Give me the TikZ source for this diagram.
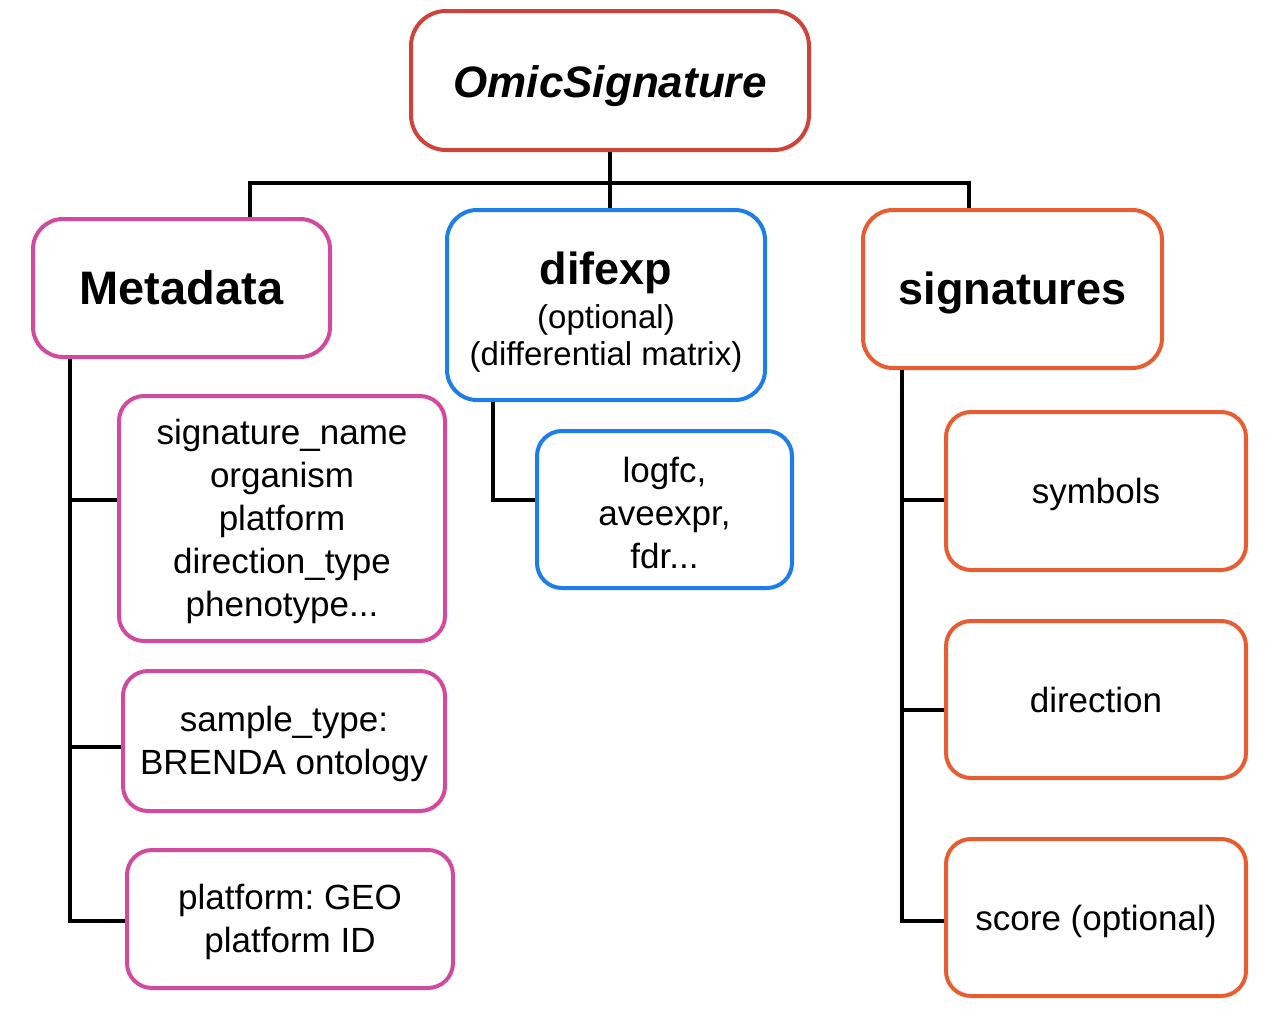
\documentclass[tikz,border=0pt]{standalone}
\usepackage{fontspec}
\setmainfont{Liberation Sans}
\frenchspacing
\definecolor{cred}{RGB}{208,67,58}
\definecolor{cpink}{RGB}{210,74,157}
\definecolor{cblue}{RGB}{30,125,232}
\definecolor{corange}{RGB}{232,92,50}
\tikzset{
  box/.style={draw, line width=4pt, rounded corners=30pt, fill=white, align=center, inner sep=0pt},
  sub/.style={box, rounded corners=25pt, font=\fontsize{35}{43}\selectfont},
  head/.style={box, font=\fontsize{45}{50}\selectfont\bfseries},
  conn/.style={draw=black, line width=4.5pt}
}
\newcommand{\topstrut}[1]{\rule{0pt}{#1pt}}
\begin{document}
\begin{tikzpicture}[x=1pt,y=-1pt]
\useasboundingbox (0,0) rectangle (1267,1009);
% top
\node[head, draw=cred, minimum width=398pt, minimum height=139pt, rounded corners=35pt, font=\fontsize{44}{50}\selectfont\bfseries\itshape] (omic) at (610,80.5) {\topstrut{43}OmicSignature};
\node[head, draw=cpink, minimum width=297pt, minimum height=138pt, font=\fontsize{47}{50}\selectfont\bfseries] (meta) at (181.5,288) {Metadata};
\node[box, draw=cblue, minimum width=318pt, minimum height=190pt, font=\fontsize{33}{37}\selectfont] (dif) at (606,305) {{\fontsize{45}{45}\selectfont\bfseries \topstrut{46}difexp}\\[7pt](optional)\\(differential matrix)};
\node[head, draw=corange, minimum width=299pt, minimum height=158pt] (sig) at (1012.5,289) {\topstrut{40}signatures};
% metadata children
\node[sub, draw=cpink, minimum width=326pt, minimum height=245pt] (m1) at (282,518.5) {\topstrut{32}signature\_name\\organism\\platform\\direction\_type\\phenotype...};
\node[sub, draw=cpink, minimum width=322pt, minimum height=140pt] (m2) at (284,741) {\topstrut{32}sample\_type:\\BRENDA ontology};
\node[sub, draw=cpink, minimum width=326pt, minimum height=138pt] (m3) at (290,919) {\topstrut{32}platform: GEO\\platform ID};
% difexp child
\node[sub, draw=cblue, minimum width=255pt, minimum height=157pt] (d1) at (664.5,509.5) {\topstrut{32}logfc,\\aveexpr,\\fdr...};
% signatures children
\node[sub, draw=corange, minimum width=300pt, minimum height=158pt] (s1) at (1096,491) {\topstrut{32}symbols};
\node[sub, draw=corange, minimum width=300pt, minimum height=157pt] (s2) at (1096,699.5) {direction};
\node[sub, draw=corange, minimum width=300pt, minimum height=157pt] (s3) at (1096,917.5) {\topstrut{34}score (optional)};
% coordinates
\coordinate (busL) at (250,183);
\coordinate (busR) at (969,183);
\coordinate (mt) at (70,0);
\coordinate (mb1) at (0,500);
\coordinate (mb2) at (0,747);
\coordinate (mb3) at (0,921);
\coordinate (dt) at (493,0);
\coordinate (db1) at (0,500);
\coordinate (st) at (902,0);
\coordinate (sb1) at (0,500);
\coordinate (sb2) at (0,710);
\coordinate (sb3) at (0,921);
% connectors
\path[conn] (omic.south) -- (omic.south |- dif.north);
\path[conn] (busL |- meta.north) -- (busL) -- (busR) -- (busR |- sig.north);
\path[conn] (mt |- meta.south) -- (mt |- mb3) -- (m3.west |- mb3);
\path[conn] (mt |- mb1) -- (m1.west |- mb1);
\path[conn] (mt |- mb2) -- (m2.west |- mb2);
\path[conn] (dt |- dif.south) -- (dt |- db1) -- (d1.west |- db1);
\path[conn] (st |- sig.south) -- (st |- sb3) -- (s3.west |- sb3);
\path[conn] (st |- sb1) -- (s1.west |- sb1);
\path[conn] (st |- sb2) -- (s2.west |- sb2);
\end{tikzpicture}
\end{document}
